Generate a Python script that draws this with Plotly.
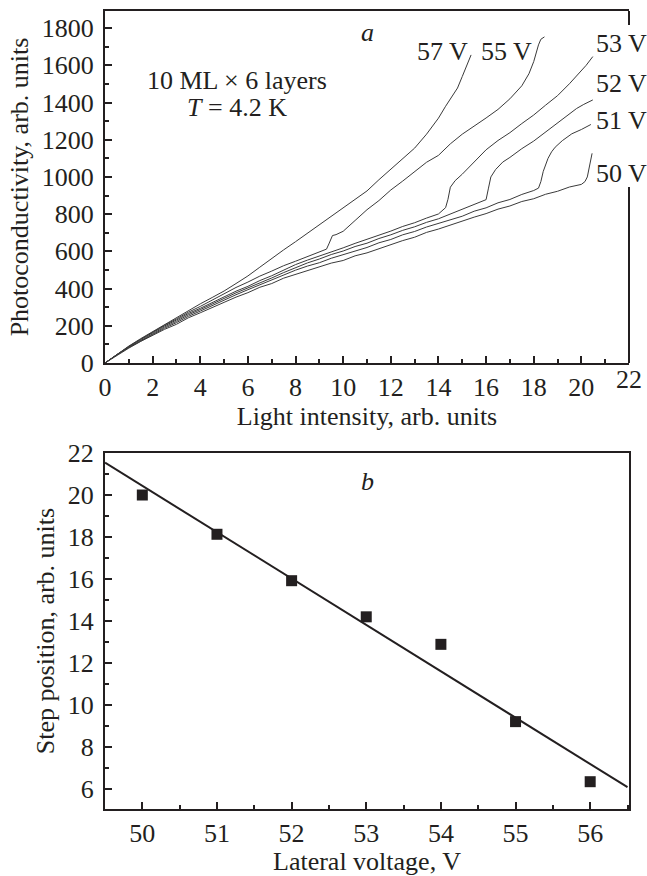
import numpy as np
import plotly.graph_objects as go

# ---------------- Panel a data ----------------
x50 = [0, 0.5, 1, 1.5, 2, 2.5, 3, 3.5, 4, 4.5, 5, 5.5, 6, 6.5, 7, 7.5, 8, 8.5, 9, 9.5, 10,
       10.5, 11, 11.5, 12, 12.5, 13, 13.5, 14, 14.5, 15, 15.5, 16, 16.5, 17, 17.5, 18, 18.5,
       19, 19.5, 20, 20.15, 20.25, 20.35, 20.45]
y50 = [0, 42, 80, 116, 148, 181, 208, 243, 270, 300, 326, 354, 378, 407, 427, 456, 476, 499,
       516, 537, 551, 576, 592, 615, 634, 658, 676, 702, 720, 742, 760, 784, 803, 827, 844,
       868, 883, 907, 923, 946, 960, 975, 1000, 1060, 1127]

x51 = [0, 0.5, 1, 1.5, 2, 2.5, 3, 3.5, 4, 4.5, 5, 5.5, 6, 6.5, 7, 7.5, 8, 8.5, 9, 9.5, 10,
       10.5, 11, 11.5, 12, 12.5, 13, 13.5, 14, 14.5, 15, 15.5, 16, 16.5, 17, 17.5, 18,
       18.2, 18.3, 18.4, 18.5, 18.6, 18.75, 18.9, 19.2, 19.6, 20.0, 20.3, 20.4]
y51 = [0, 44, 83, 119, 153, 187, 217, 251, 279, 309, 339, 367, 394, 421, 445, 473, 499, 521,
       539, 563, 581, 601, 621, 646, 664, 689, 707, 731, 749, 771, 789, 816, 834, 861, 879,
       906, 927, 940, 975, 1030, 1070, 1100, 1135, 1160, 1195, 1232, 1255, 1275, 1282]

x52 = [0, 0.5, 1, 1.5, 2, 2.5, 3, 3.5, 4, 4.5, 5, 5.5, 6, 6.5, 7, 7.5, 8, 8.5, 9, 9.5, 10,
       10.5, 11, 11.5, 12, 12.5, 13, 13.5, 14, 14.5, 15, 15.5,
       15.9, 16.0, 16.1, 16.2, 16.4, 16.7, 17.0, 17.5, 18.0, 18.5, 19.0, 19.5, 19.8, 20.1, 20.48]
y52 = [0, 45, 85, 122, 158, 193, 224, 259, 287, 319, 347, 377, 403, 433, 457, 486, 514, 538,
       559, 583, 602, 626, 644, 669, 689, 713, 732, 756, 775, 801, 824, 849,
       870, 878, 940, 1000, 1040, 1080, 1105, 1152, 1193, 1242, 1290, 1343, 1368, 1390, 1414]

x53 = [0, 0.5, 1, 1.5, 2, 2.5, 3, 3.5, 4, 4.5, 5, 5.5, 6, 6.5, 7, 7.5, 8, 8.5, 9, 9.5, 10,
       10.5, 11, 11.5, 12, 12.5, 13, 13.5, 14,
       14.3, 14.4, 14.5, 14.7, 15.0, 15.5, 16.0, 16.5, 17.0, 17.5, 18.0, 18.5, 19.0, 19.5,
       19.9, 20.2, 20.48]
y53 = [0, 46, 88, 126, 163, 199, 231, 266, 294, 326, 355, 386, 412, 443, 469, 499, 529, 553,
       574, 599, 619, 643, 664, 689, 709, 734, 754, 779, 801,
       835, 880, 945, 980, 1015, 1078, 1146, 1196, 1238, 1287, 1333, 1386, 1437, 1501,
       1555, 1600, 1647]

x55 = [0, 0.5, 1, 1.5, 2, 2.5, 3, 3.5, 4, 4.5, 5, 5.5, 6, 6.5, 7, 7.5, 8, 8.5, 9,
       9.3, 9.4, 9.55, 9.7, 9.85, 10.0, 10.5, 11.0, 11.5, 12.0, 12.5, 13.0, 13.5, 14.0,
       14.5, 15.0, 15.5, 16.0, 16.5, 17.0, 17.5, 17.8, 18.0, 18.2, 18.3, 18.45]
y55 = [0, 47, 89, 128, 166, 203, 237, 273, 304, 339, 371, 406, 435, 467, 494, 523, 547, 573,
       597, 612, 640, 685, 690, 700, 708, 766, 824, 873, 930, 978, 1031, 1079, 1116,
       1178, 1230, 1272, 1317, 1363, 1420, 1490, 1555, 1620, 1710, 1740, 1753]

x57 = [0, 0.5, 1, 1.5, 2, 2.5, 3, 3.5, 4, 4.5, 5, 5.5, 6, 6.5, 7, 7.5, 8, 8.5, 9, 9.5, 10,
       10.5, 11, 11.5, 12, 12.5, 13, 13.5, 14, 14.3, 14.5, 14.8, 15.0, 15.2, 15.37]
y57 = [0, 48, 91, 131, 168, 206, 245, 283, 318, 352, 387, 427, 468, 515, 563, 608, 652, 698,
       743, 788, 833, 878, 925, 985, 1040, 1098, 1155, 1230, 1316, 1380, 1420, 1478, 1540,
       1605, 1656]

curves = [("50 V", x50, y50), ("51 V", x51, y51), ("52 V", x52, y52),
          ("53 V", x53, y53), ("55 V", x55, y55), ("57 V", x57, y57)]

label_names = ["57 V", "55 V", "53 V", "52 V", "51 V", "50 V"]
label_x = [14.17, 16.86, 20.55, 20.55, 20.55, 20.55]
label_y = [1672, 1672, 1720, 1505, 1306, 1021]
label_anchor = ["center", "center", "left", "left", "left", "left"]

x_ticks_a = [0, 2, 4, 6, 8, 10, 12, 14, 16, 18, 20]

# ---------------- Panel b data ----------------
voltage = [50, 51, 52, 53, 54, 55, 56]
step_pos = [20.0, 18.13, 15.92, 14.2, 12.89, 9.21, 6.35]
fit_range = [49.5, 56.5]
coef = np.polyfit(voltage, step_pos, 1)
fit_y = list(np.polyval(coef, fit_range))

FONT = "Liberation Serif"
INK = "#231f20"
FS = 26

fig = go.Figure()
for name, xs, ys in curves:
    fig.add_trace(go.Scatter(x=xs, y=ys, mode="lines", name=name,
                             line=dict(color="#3a3a3a", width=1),
                             xaxis="x", yaxis="y", showlegend=False))

fig.add_trace(go.Scatter(x=fit_range, y=fit_y, mode="lines",
                         line=dict(color=INK, width=2),
                         xaxis="x2", yaxis="y2", showlegend=False))
fig.add_trace(go.Scatter(x=voltage, y=step_pos, mode="markers",
                         marker=dict(symbol="square", size=11, color=INK),
                         xaxis="x2", yaxis="y2", showlegend=False))

W, H = 647, 876
xdom = [105 / W, 629 / W]
ydom_a = [1 - 363 / H, 1 - 11 / H]
ydom_b = [1 - 809 / H, 1 - 453 / H]

axis_common = dict(showgrid=False, zeroline=False, showline=True, linecolor=INK,
                   linewidth=2, ticks="inside", ticklen=7, tickwidth=1.5,
                   tickcolor=INK, automargin=False,
                   tickfont=dict(family=FONT, size=FS, color=INK))

fig.update_layout(
    width=W, height=H, autosize=False,
    margin=dict(l=0, r=0, t=0, b=0, pad=0, autoexpand=False),
    paper_bgcolor="white", plot_bgcolor="white",
    showlegend=False,
    font=dict(family=FONT, size=FS, color=INK),
    xaxis=dict(domain=xdom, anchor="y", range=[0, 22], mirror=True,
               tickmode="array", tickvals=x_ticks_a,
               minor=dict(ticks="inside", ticklen=4, tickmode="linear", tick0=0, dtick=1,
                          tickcolor=INK, tickwidth=1.5),
               title=dict(text="Light intensity, arb. units", standoff=0,
                          font=dict(family=FONT, size=FS, color=INK)),
               ticklabelstandoff=0,
               **axis_common),
    yaxis=dict(domain=ydom_a, anchor="x", range=[0, 1892], mirror=False,
               tickmode="linear", tick0=0, dtick=200,
               minor=dict(ticks="inside", ticklen=4, tickmode="linear", tick0=0, dtick=100,
                          tickcolor=INK, tickwidth=1.5),
               title=dict(text="Photoconductivity, arb. units", standoff=6,
                          font=dict(family=FONT, size=FS, color=INK)),
               ticklabelstandoff=4,
               **axis_common),
    xaxis2=dict(domain=xdom, anchor="y2", range=[49.5, 56.52], mirror=True,
                tickmode="linear", tick0=50, dtick=1,
                minor=dict(ticks="inside", ticklen=4, tickmode="linear", tick0=49.5, dtick=0.5,
                           tickcolor=INK, tickwidth=1.5),
                title=dict(text="Lateral voltage, V", standoff=9,
                           font=dict(family=FONT, size=FS, color=INK)),
                ticklabelstandoff=0,
                **axis_common),
    yaxis2=dict(domain=ydom_b, anchor="x2", range=[5.05, 22], mirror=True,
                tickmode="linear", tick0=6, dtick=2,
                minor=dict(ticks="inside", ticklen=4, tickmode="linear", tick0=5, dtick=1,
                           tickcolor=INK, tickwidth=1.5),
                title=dict(text="Step position, arb. units", standoff=6,
                           font=dict(family=FONT, size=FS, color=INK)),
                ticklabelstandoff=4,
                **axis_common),
)

# right frame of panel a, interrupted where the curve labels sit
fig.add_shape(type="line", xref="x domain", yref="y domain", x0=1, x1=1, y0=0, y1=0.50,
              line=dict(color=INK, width=2))
fig.add_shape(type="line", xref="x domain", yref="y domain", x0=1, x1=1, y0=0.96, y1=1,
              line=dict(color=INK, width=2))

for nm, lx, ly, anc in zip(label_names, label_x, label_y, label_anchor):
    fig.add_annotation(x=lx, y=ly, xref="x", yref="y", text=nm, showarrow=False,
                       xanchor=anc, yanchor="middle",
                       font=dict(family=FONT, size=FS, color=INK))

fig.add_annotation(x=22, y=0, xref="x", yref="y", text="22", showarrow=False,
                   xanchor="center", yanchor="top", yshift=0,
                   font=dict(family=FONT, size=FS, color=INK))
fig.add_annotation(x=11.03, y=1774, xref="x", yref="y", text="<i>a</i>", showarrow=False,
                   font=dict(family=FONT, size=FS, color=INK))
fig.add_annotation(x=5.53, y=1521, xref="x", yref="y", text="10 ML × 6 layers",
                   showarrow=False, font=dict(family=FONT, size=FS, color=INK))
fig.add_annotation(x=5.53, y=1371, xref="x", yref="y", text="<i>T</i> = 4.2 K",
                   showarrow=False, font=dict(family=FONT, size=FS, color=INK))
fig.add_annotation(x=53.01, y=20.62, xref="x2", yref="y2", text="<i>b</i>",
                   showarrow=False, font=dict(family=FONT, size=FS, color=INK))

fig.write_html("out.html", config={"displayModeBar": False},
               post_script="document.body.style.margin='0';document.body.style.overflow='hidden';")
